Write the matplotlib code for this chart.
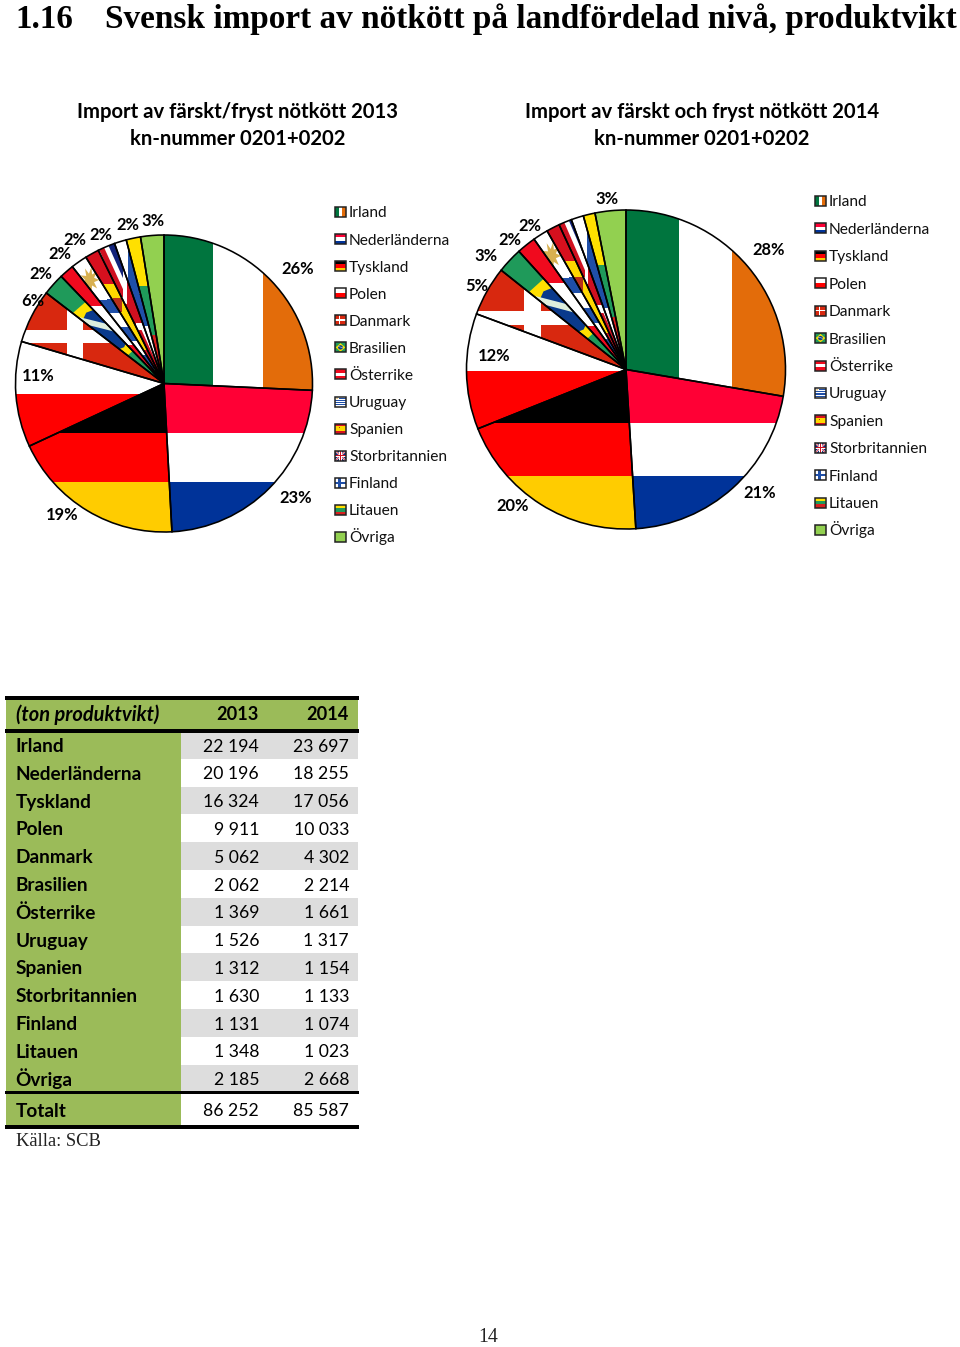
import matplotlib
matplotlib.use("Agg")
import matplotlib.pyplot as plt
from matplotlib.patches import Rectangle, Polygon
import math

countries = ["Irland", "Nederländerna", "Tyskland", "Polen", "Danmark", "Brasilien", "Österrike",
             "Uruguay", "Spanien", "Storbritannien", "Finland", "Litauen", "Övriga"]
values_2013 = [22194, 20196, 16324, 9911, 5062, 2062, 1369, 1526, 1312, 1630, 1131, 1348, 2185]
values_2014 = [23697, 18255, 17056, 10033, 4302, 2214, 1661, 1317, 1154, 1133, 1074, 1023, 2668]
total_2013 = 86252
total_2014 = 85587
pct_labels_2013 = ["26%", "23%", "19%", "11%", "6%", "2%", "2%", "2%", "2%", "2%", "3%"]
pct_labels_2014 = ["28%", "21%", "20%", "12%", "5%", "3%", "2%", "2%", "3%"]

W, H = 960, 1347
SANS = "Lato"
SERIF = "Liberation Serif"
px = 0.72  # pixels to points at dpi 100

fig = plt.figure(figsize=(W / 100, H / 100), dpi=100)
ax = fig.add_axes([0, 0, 1, 1])


def Y(y):
    return H - y


def txt(x, y, s, size, weight="normal", ha="left", family=SANS, style="normal", color="black"):
    """y is the visual centre of the capitals; text sits on a fixed baseline."""
    k = 0.33 if family == SERIF else 0.35
    ax.text(x, Y(y + k * size), s, fontsize=size * px, fontweight=weight, ha=ha, va="baseline",
            family=family, style=style, color=color, zorder=10)


def stripes_h(*cols):
    n = len(cols)
    return [("r", 0, i / n, 1, (i + 1) / n, c) for i, c in enumerate(cols)]


def stripes_v(*cols):
    n = len(cols)
    return [("r", i / n, 0, (i + 1) / n, 1, c) for i, c in enumerate(cols)]


BRA_G, BRA_Y, BRA_B = "#1F9A5A", "#FFE000", "#0A3A8C"
UK_B, UK_R = "#12237A", "#CF1020"


def danish(u0, u1, v0, v1):
    return [("r", 0, 0, 1, 1, "#D8280F"), ("r", u0, 0, u1, 1, "white"), ("r", 0, v0, 1, v1, "white")]


uruguay = [("r", 0, 0, 1, 1, "white")]
for k in (1, 3, 5, 7):
    uruguay.append(("r", 0, k / 9, 1, (k + 1) / 9, "#1F4FA8"))
uruguay.append(("r", 0, 0, 0.38, 0.34, "white"))
sun = []
for a in range(0, 360, 20):
    rr = 0.105 if a % 40 == 0 else 0.05
    sun.append((0.19 + rr * math.cos(math.radians(a)), 0.18 + rr * math.sin(math.radians(a))))
uruguay.append(("p", sun, "#D8B050"))

spain = [("r", 0, 0, 1, 1, "#D6101E"), ("r", 0, .25, 1, .75, "#FFD800"),
         ("r", .35, .36, .46, .46, "#B8301A")]

uk = [("r", 0, 0, 1, 1, UK_B),
      ("p", [(0, 0), (.14, 0), (1, .9), (1, 1), (.86, 1), (0, .1)], "white"),
      ("p", [(1, 0), (.86, 0), (0, .9), (0, 1), (.14, 1), (1, .1)], "white"),
      ("p", [(0, 0), (.06, 0), (1, .97), (1, 1), (.94, 1), (0, .03)], UK_R),
      ("p", [(1, 0), (.94, 0), (0, .97), (0, 1), (.06, 1), (1, .03)], UK_R),
      ("r", .38, 0, .62, 1, "white"), ("r", 0, .38, 1, .62, "white"),
      ("r", .43, 0, .57, 1, UK_R), ("r", 0, .43, 1, .57, UK_R)]

brazil = [("r", 0, 0, 1, 1, BRA_G),
          ("p", [(.5, .08), (.94, .5), (.5, .92), (.06, .5)], BRA_Y),
          ("e", .5, .5, .23, BRA_B),
          ("p", [(.28, .38), (.72, .50), (.70, .55), (.27, .43)], "#DDEEDD")]

flags = {
    "Irland": stripes_v("#00753E", "white", "#E36C0A"),
    "Nederländerna": stripes_h("#FF0035", "white", "#003399"),
    "Tyskland": stripes_h("black", "#FF0000", "#FFCC00"),
    "Polen": stripes_h("white", "#FF0000"),
    "Danmark": danish(.32, .43, .41, .55),
    "Brasilien": brazil,
    "Österrike": stripes_h("#F00A1E", "white", "#F00A1E"),
    "Uruguay": uruguay,
    "Spanien": spain,
    "Storbritannien": uk,
    "Finland": [("r", 0, 0, 1, 1, "white"), ("r", .28, 0, .5, 1, "#1F4FA8"), ("r", 0, .38, 1, .6, "#1F4FA8")],
    "Litauen": stripes_h("#FFE000", "#1F9A5A", "#D8201E"),
    "Övriga": [("r", 0, 0, 1, 1, "#92D050")],
}


def draw_flag(name, x0, y0, x1, y1, clip=None, z=2):
    """x0..x1, y0..y1 in data units (y upward); flag unit square has v downward."""
    w, h = x1 - x0, y1 - y0

    def m(u, v):
        return (x0 + u * w, y1 - v * h)

    for item in flags[name]:
        if item[0] == "r":
            _, u0, v0, u1, v1, c = item
            a, b = m(u0, v1)
            p = Rectangle((a, b), (u1 - u0) * w, (v1 - v0) * h, fc=c, ec="none", zorder=z)
        elif item[0] == "p":
            p = Polygon([m(u, v) for u, v in item[1]], closed=True, fc=item[2], ec="none", zorder=z)
        else:
            p = Polygon([m(item[1] + item[3] * dx, item[2] + item[3] * dy) for dx, dy in
                         [(0, -1), (.7, -.7), (1, 0), (.7, .7), (0, 1), (-.7, .7), (-1, 0), (-.7, -.7)]],
                        closed=True, fc=item[4], ec="none", zorder=z)
        ax.add_patch(p)
        if clip is not None:
            p.set_clip_path(clip)


def flag_pie(vals, cx, cy, r):
    wedges, _ = ax.pie(vals, center=(cx, Y(cy)), radius=r, startangle=90, counterclock=False,
                       frame=True, wedgeprops=dict(fc="none", ec="black", lw=1.15, zorder=5))
    for w, name in zip(wedges, countries):
        e = w.get_path().get_extents()
        draw_flag(name, e.x0, e.y0, e.x1, e.y1, clip=w)


flag_pie(values_2013, 164, 383.5, 148.5)
flag_pie(values_2014, 626, 369.5, 159.5)

ax.set_xlim(0, W)
ax.set_ylim(0, H)
ax.set_aspect("equal")
ax.axis("off")

# percentage labels
pos13 = [(298, 268), (296, 497), (62, 514), (38, 375), (33, 300), (41, 273), (60, 253), (75, 239),
         (101, 234), (128, 224), (153, 220)]
pos14 = [(769, 249), (760, 492), (513, 505), (494, 355), (477, 285), (486, 255), (510, 239),
         (530, 225), (607, 198)]
for (x, y), s in zip(pos13, pct_labels_2013):
    txt(x, y, s, 16.5, "bold", "center")
for (x, y), s in zip(pos14, pct_labels_2014):
    txt(x, y, s, 16.5, "bold", "center")

# legends
for i, name in enumerate(countries):
    for sx, tx, y in ((335, 349, 212 + 27.08 * i), (815, 829, 201 + 27.42 * i)):
        draw_flag(name, sx, Y(y + 5), sx + 11, Y(y - 5), z=3)
        ax.add_patch(Rectangle((sx, Y(y + 5)), 11, 10, fc="none", ec="#222222", lw=1.1, zorder=4))
        txt(tx, y, name, 15.5, color="#111111")

# headings
txt(15.5, 17, "1.16", 33, "bold", family=SERIF)
txt(105, 17, "Svensk import av nötkött på landfördelad nivå, produktvikt", 33.3, "bold", family=SERIF)
for x, a, b in ((237.5, "Import av färskt/fryst nötkött 2013", "kn-nummer 0201+0202"),
                (702, "Import av färskt och fryst nötkött 2014", "kn-nummer 0201+0202")):
    txt(x, 111, a, 20.3, "bold", "center")
    txt(x, 138, b, 20.3, "bold", "center")

# table
GREEN, GRAY = "#9BBB59", "#DDDDDD"
L, G, R = 6, 181, 358
TOP, HB, RH = 698, 731, 27.8


def band(x0, x1, y0, y1, c, z=1):
    ax.add_patch(Rectangle((x0, Y(y1)), x1 - x0, y1 - y0, fc=c, ec="none", zorder=z))


def fmt(v):
    return f"{v:,}".replace(",", " ")


NUM = 17.6
band(L, R, TOP, HB, GREEN)
txt(15.5, 714, "(ton produktvikt)", 20, "bold", style="italic")
txt(259, 714, "2013", 18.2, "bold", "right")
txt(349, 714, "2014", 18.2, "bold", "right")
for i, name in enumerate(countries):
    y0 = HB + RH * i
    band(L, G, y0, y0 + RH, GREEN)
    if i % 2 == 0:
        band(G, R, y0, y0 + RH, GRAY)
    yc = y0 + RH / 2 + 0.5
    txt(15.5, yc, name, 19, "bold")
    txt(259, yc, fmt(values_2013[i]), NUM, ha="right")
    txt(349, yc, fmt(values_2014[i]), NUM, ha="right")
tb = HB + RH * len(countries)
band(L, G, tb, 1127, GREEN)
txt(15.5, 1110, "Totalt", 19, "bold")
txt(259, 1110, fmt(total_2013), NUM, ha="right")
txt(349, 1110, fmt(total_2014), NUM, ha="right")
for y, t in ((TOP, 3.5), (HB, 3.5), (tb, 3), (1127, 3.5)):
    band(5, 358.5, y - t / 2, y + t / 2, "black", z=3)

txt(16, 1140, "Källa: SCB", 18.5, family=SERIF, color="#222222")
txt(488, 1335.5, "14", 20, ha="center", family=SERIF, color="#222222")

fig.savefig("out.png", dpi=100, facecolor="white")
